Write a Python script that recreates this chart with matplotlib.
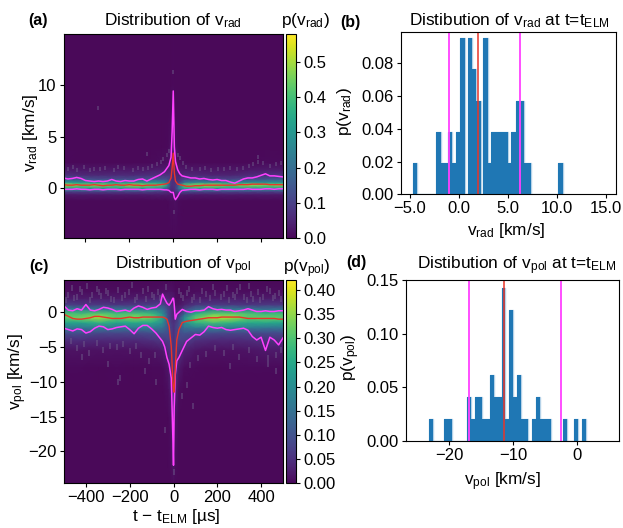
import numpy as np
import matplotlib
matplotlib.use('Agg')
import matplotlib.pyplot as plt
from matplotlib.colors import ListedColormap

plt.rcParams['font.family'] = ['Liberation Sans', 'DejaVu Sans']
plt.rcParams['mathtext.fontset'] = 'custom'
plt.rcParams['mathtext.rm'] = 'Liberation Sans'
plt.rcParams['mathtext.default'] = 'regular'
plt.rcParams['font.size'] = 12.4
plt.rcParams['xtick.labelsize'] = 12
plt.rcParams['ytick.labelsize'] = 12

W, H = 623, 528
MAGENTA = '#ff40ff'
RED = '#e8352a'
SPECK = '#6f5f8c'

# viridis, washed out a little like the reference
colours = plt.get_cmap('viridis')(np.linspace(0, 1, 256))
colours[:, :3] = colours[:, :3] * 0.97 + 0.03
CMAP = ListedColormap(colours)

# panel (a): heatmap nodes, read by eye
rad_t = [-500, -420, -340, -260, -180, -100, -50, -25, -10, 0, 10, 25, 50, 100, 180, 260, 340, 420, 500]
rad_v = [-4.8, -1.2, -0.6, -0.3, 0.0, 0.3, 0.6, 0.9, 1.3, 1.8, 2.5, 4, 7, 10, 14.9]
rad_p = [
    [0, 0, 0, 0, 0, 0, 0, 0, 0, 0, 0, 0, 0, 0, 0, 0, 0, 0, 0],
    [0, 0, 0, 0, 0, 0, 0, .002, .01, .01, .015, .005, 0, 0, 0, 0, 0, 0, 0],
    [.025, .028, .025, .028, .025, .028, .03, .03, .03, .03, .04, .035, .03, .025, .025, .028, .025, .028, .025],
    [.11, .1, .11, .1, .11, .1, .08, .06, .05, .05, .07, .1, .12, .12, .11, .11, .11, .1, .11],
    [.3, .33, .29, .33, .3, .32, .25, .14, .06, .06, .08, .2, .32, .35, .31, .33, .3, .33, .29],
    [.5, .44, .48, .42, .5, .44, .42, .26, .07, .07, .08, .18, .42, .47, .5, .42, .48, .44, .46],
    [.3, .29, .27, .29, .27, .29, .27, .2, .08, .07, .07, .09, .2, .26, .25, .27, .26, .27, .28],
    [.15, .13, .12, .12, .12, .13, .13, .12, .08, .06, .06, .06, .1, .11, .1, .1, .12, .13, .15],
    [.07, .055, .05, .055, .055, .065, .07, .07, .07, .06, .05, .045, .05, .05, .045, .045, .055, .065, .07],
    [.03, .025, .022, .025, .025, .03, .035, .04, .05, .05, .04, .03, .025, .025, .022, .022, .025, .03, .03],
    [.004, .002, .001, .002, .002, .004, .008, .015, .035, .04, .03, .01, .004, .002, .001, .001, .002, .005, .004],
    [0, 0, 0, 0, 0, 0, 0, .003, .02, .03, .015, .002, 0, 0, 0, 0, 0, 0, 0],
    [0, 0, 0, 0, 0, 0, 0, 0, .006, .02, .004, 0, 0, 0, 0, 0, 0, 0, 0],
    [0, 0, 0, 0, 0, 0, 0, 0, 0, .003, 0, 0, 0, 0, 0, 0, 0, 0, 0],
    [0, 0, 0, 0, 0, 0, 0, 0, 0, 0, 0, 0, 0, 0, 0, 0, 0, 0, 0],
]
rad_speck_t = [-480, -455, -440, -405, -380, -360, -335, -310, -270, -250, -225, -185, -160, -140, -115, -95, -75, -55, -45, -30, -20, 20, 30, 45, 60, 85, 120, 145, 170, 205, 230, 260, 290, 320, 345, 365, 385, 385, 410, 440, 470, 490, -345, -120, 0, 5]
rad_speck_v = [1.9, 2.1, 1.8, 2.1, 1.8, 1.9, 1.9, 2.0, 1.8, 2.1, 2.0, 1.8, 2.0, 1.9, 2.0, 2.2, 2.3, 2.5, 2.8, 3.2, 3.6, 3.2, 2.9, 2.4, 2.1, 1.9, 1.9, 2.0, 1.8, 1.9, 1.9, 2.0, 1.9, 2.0, 2.2, 2.3, 2.5, 3.0, 2.4, 2.2, 2.3, 2.4, 7.8, 3.3, 11.2, -2.3]

# panel (a): percentile lines
rad_line_t = [-500, -480, -460, -440, -420, -400, -380, -360, -340, -320, -300, -280, -260, -240, -220, -200, -180, -160, -140, -120, -100, -80, -60, -40, -30, -20, -10, -5, 0, 5, 10, 20, 30, 40, 60, 80, 100, 120, 140, 160, 180, 200, 220, 240, 260, 280, 300, 320, 340, 360, 380, 400, 420, 440, 460, 480, 500]
rad_hi = [1.0, .9, .95, 1.05, .95, .75, .7, .65, .7, .65, .7, .85, .7, .65, .75, .7, .7, .85, .9, .7, .9, 1.1, 1.3, 1.6, 1.9, 2.2, 3.0, 5.5, 9.4, 4.0, 2.6, 1.8, 1.4, 1.2, 1.1, 1.0, 1.0, .9, .95, .85, .8, .85, .75, .75, .6, .5, .7, .9, 1.0, 1.0, 1.1, 1.25, 1.4, 1.2, 1.2, 1.15, 1.1]
rad_med = [.35, .3, .3, .35, .3, .3, .3, .35, .3, .25, .3, .3, .35, .3, .3, .35, .3, .3, .25, .3, .3, .3, .35, .4, .45, .55, 1.0, 2.0, 3.4, 1.5, .7, .4, .35, .3, .2, .2, .25, .25, .3, .3, .3, .3, .3, .3, .3, .3, .35, .35, .35, .4, .4, .4, .4, .35, .35, .35, .35]
rad_lo = [-.1, -.1, -.1, -.05, -.1, -.1, -.15, -.1, -.1, -.15, -.1, -.1, -.1, -.15, -.1, -.1, -.1, -.1, -.15, -.1, -.1, -.1, -.1, -.15, -.15, -.2, -.4, -.4, -.4, -.9, -1.1, -.8, -.4, -.2, -.15, -.1, -.1, -.15, -.1, -.1, -.1, -.15, -.1, -.1, -.1, -.1, -.1, -.1, -.05, -.1, -.1, -.1, -.05, -.05, -.1, -.05, -.05]
rad_vals = [-1.02, 1.97, 6.22]

# panel (c): heatmap nodes, read by eye
pol_t = [-500, -420, -340, -260, -180, -100, -50, -25, -10, 0, 10, 25, 50, 100, 180, 260, 340, 420, 500]
pol_v = [-24.6, -22, -15, -11, -8, -5.5, -4, -3, -2.2, -1.5, -.8, -.2, .4, 1.1, 2, 3, 4.7]
pol_p = [
    [0, 0, 0, 0, 0, 0, 0, 0, 0, 0, 0, 0, 0, 0, 0, 0, 0, 0, 0],
    [0, 0, 0, 0, 0, 0, 0, 0, .005, .02, .005, 0, 0, 0, 0, 0, 0, 0, 0],
    [0, 0, 0, 0, 0, 0, 0, 0, .012, .04, .012, 0, 0, 0, 0, 0, 0, 0, 0],
    [0, 0, 0, 0, 0, 0, 0, .008, .03, .05, .03, .006, 0, 0, 0, 0, 0, 0, 0],
    [.002, .002, .001, .002, .001, .002, .004, .015, .05, .05, .05, .02, .006, .002, .001, .002, .002, .003, .003],
    [.012, .012, .01, .01, .01, .012, .02, .04, .06, .05, .06, .05, .03, .015, .01, .01, .014, .02, .02],
    [.045, .045, .04, .04, .04, .05, .06, .07, .07, .05, .07, .08, .07, .05, .04, .04, .045, .05, .05],
    [.09, .09, .08, .08, .08, .09, .1, .09, .07, .05, .07, .09, .1, .09, .085, .08, .08, .085, .085],
    [.17, .16, .17, .16, .17, .17, .15, .1, .07, .05, .07, .1, .15, .17, .18, .17, .17, .16, .16],
    [.24, .24, .27, .24, .25, .25, .2, .1, .06, .05, .06, .09, .2, .27, .29, .27, .25, .25, .24],
    [.31, .33, .36, .31, .34, .32, .24, .09, .05, .04, .05, .08, .2, .31, .37, .36, .31, .32, .31],
    [.3, .29, .31, .29, .3, .28, .2, .09, .05, .04, .04, .05, .12, .26, .31, .31, .3, .28, .29],
    [.18, .17, .16, .16, .16, .17, .15, .08, .05, .04, .03, .03, .08, .14, .17, .17, .16, .15, .16],
    [.07, .06, .06, .055, .06, .065, .08, .06, .04, .03, .015, .015, .03, .055, .06, .06, .055, .06, .06],
    [.025, .022, .022, .02, .022, .025, .035, .03, .025, .02, .008, .006, .012, .02, .022, .022, .022, .022, .022],
    [.008, .006, .006, .005, .006, .006, .01, .012, .012, .01, .004, .003, .004, .006, .006, .006, .006, .006, .006],
    [0, 0, 0, 0, 0, 0, 0, 0, 0, 0, 0, 0, 0, 0, 0, 0, 0, 0, 0],
]
pol_speck_t = [-480, -465, -440, -420, -395, -370, -350, -330, -300, -285, -255, -220, -190, -165, -140, -115, -90, -70, -35, 25, 45, 70, 95, 130, 165, 190, 215, 245, 270, 290, 320, 345, 365, 385, 410, 440, 465, 490,
               -490, -455, -425, -380, -340, -310, -270, -235, -205, -175, -125, -100, -60, 35, 60, 85, 120, 150, 180, 230, 255, 280, 305, 335, 355, 395, 425, 455, 480,
               -470, -440, -410, -385, -350, -320, -290, -260, -230, -200, -170, -150, -110, -85, 75, 110, 150, 190, 230, 270, 300, 345, 380, 430, 470, 490, -420, -300, -245, -130, -80, 40, 60, 90, 260, 430, 470, -255, -40, 0]
pol_speck_v = [2.5, 3.5, 2.2, 2.9, 3.8, 2.4, 3.4, 2.3, 2.7, 1.9, 3.2, 2.4, 3.9, 2.2, 3.0, 3.4, 2.2, 2.9, 3.6, 3.0, 2.1, 3.4, 2.2, 3.0, 2.0, 2.8, 2.2, 3.5, 2.4, 3.0, 2.2, 3.7, 1.9, 2.9, 2.2, 3.1, 2.3, 1.9,
               1.8, 2.0, 3.3, 1.7, 2.9, 3.1, 1.8, 2.0, 2.9, 1.7, 1.9, 2.5, 2.0, 2.4, 2.8, 1.8, 1.7, 2.6, 3.6, 2.6, 1.8, 2.2, 3.6, 1.8, 2.6, 1.8, 3.4, 2.0, 2.8,
               -4.2, -5.2, -4.6, -5.8, -4.4, -5.4, -4.8, -5.0, -4.6, -5.6, -4.8, -6.2, -7.0, -6.2, -7.6, -6.6, -6.0, -5.2, -5.8, -5.0, -6.4, -5.4, -6.8, -6.6, -6.2, -5.4, -6.5, -7.5, -9.5, -8.5, -10, -12, -10.5, -13.5, -7.8, -7.5, -8.5, -10, -17, -23]

# panel (c): percentile lines
pol_line_t = [-500, -480, -460, -440, -420, -400, -380, -360, -340, -320, -300, -280, -260, -240, -220, -200, -180, -160, -140, -120, -100, -80, -60, -50, -40, -30, -20, -10, -3, 0, 3, 8, 15, 25, 40, 60, 80, 100, 120, 140, 160, 180, 200, 220, 240, 260, 280, 300, 320, 340, 360, 380, 400, 420, 440, 460, 480, 500]
pol_hi = [.9, .3, .2, .5, .3, 1.1, .3, .2, .4, .7, .6, .4, .1, .2, .3, .1, .6, .9, .7, .4, .6, .7, 1.2, 2.6, 1.9, 1.3, 1.0, 1.5, 2.0, 2.0, 1.2, -1.0, -.3, 0, .4, .1, 0, .2, .2, .3, .8, .5, .35, .4, .3, .3, .1, .2, .3, .5, .3, .1, .1, .2, .1, .1, .2, .2]
pol_med = [-.3, -.6, -.9, -1.0, -1.0, -.9, -.8, -.6, -.6, -.7, -.8, -.9, -.9, -.9, -.8, -.7, -.8, -.8, -.7, -.7, -.7, -.7, -.7, -.7, -.8, -1.0, -2.0, -5.0, -10.0, -11.4, -11.5, -8.0, -4.0, -2.5, -1.5, -1.3, -1.2, -1.1, -1.0, -.9, -.8, -.8, -.8, -.7, -.7, -.7, -.7, -.7, -.8, -.9, -.9, -.9, -.9, -.9, -.9, -.9, -1.0, -1.0]
pol_lo = [-2.3, -2.5, -2.7, -2.4, -2.5, -3.0, -2.8, -2.3, -2.0, -2.1, -2.5, -2.4, -2.2, -2.1, -2.0, -2.5, -3.1, -2.3, -1.9, -1.9, -2.4, -3.0, -3.8, -4.2, -5.0, -6.5, -7.5, -9.5, -18, -22, -14, -9.0, -7.0, -6.5, -5.5, -4.2, -3.7, -3.2, -3.3, -2.8, -2.0, -2.2, -2.3, -2.2, -2.5, -2.6, -2.5, -2.4, -2.3, -2.6, -3.5, -4.0, -3.6, -5.5, -3.6, -4.0, -4.7, -3.7]
pol_vals = [-16.86, -11.39, -2.53]

# panel (b): histogram, bin edges as read
b_edges = [-4.69, -4.29, -2.31, -1.77, -1.09, -.65, -.31, .14, .61, .95, 1.39, 1.77, 2.24, 2.52, 2.96, 3.30, 4.97, 5.31, 5.78, 6.6, 7.38, 10.14, 10.61]
b_counts = [1, 0, 2, 1, 2, 1, 2, 5, 0, 5, 4, 3, 0, 5, 1, 2, 1, 2, 3, 1, 0, 1]
b_unit = 0.0191

# panel (d): histogram
d_start, d_width = -23.14, 0.598
d_counts = [1, 0, 0, 0, 1, 1, 0, 0, 0, 0, 2, 1, 2, 2, 1, 1, 3, 2, 2, 7, 1, 6, 2, 3, 1, 1, 0, 1, 2, 1, 1, 1, 0, 0, 0, 1, 0, 0, 1, 0, 1]
d_unit = 0.0204


def make_axes(x0, x1, y0, y1):
    # pixel box, y from the top of the picture
    return fig.add_axes([x0 / W, 1 - y1 / H, (x1 - x0) / W, (y1 - y0) / H])


def put(x, y, s, **kw):
    fig.text(x / W, 1 - y / H, s, **kw)


def heat(ax, cax, t, v, p, vmax, st, sv, speck_s, lt, hi, med, lo):
    mesh = ax.pcolormesh(t, v, np.array(p), cmap=CMAP, vmin=0, vmax=vmax, shading='gouraud')
    ax.scatter(st, sv, color=SPECK, marker='|', s=speck_s, linewidths=1.2, alpha=0.55)
    ax.plot(lt, hi, color=MAGENTA, lw=1.1)
    ax.plot(lt, lo, color=MAGENTA, lw=1.1)
    ax.plot(lt, med, color=RED, lw=1)
    ax.set_xlim(-500, 500)
    ax.set_xticks([-400, -200, 0, 200, 400])
    fig.colorbar(mesh, cax=cax)
    cax.tick_params(length=3, pad=2)
    ax.tick_params(length=3, pad=2)


def hist(ax, edges, counts, unit, vals):
    heights = np.array(counts) * unit
    ax.stairs(heights, edges, color='#b5d2e8', lw=1.0)
    ax.stairs(heights, edges, fill=True, color='#1f77b4', lw=0)
    ax.axvline(vals[0], color=MAGENTA, lw=1.3)
    ax.axvline(vals[2], color=MAGENTA, lw=1.3)
    ax.axvline(vals[1], color=RED, lw=1.1)
    ax.tick_params(length=3, pad=2)


fig = plt.figure(figsize=(W / 100, H / 100), dpi=100)

ax_a = make_axes(63.5, 283, 34, 238)
cax_a = make_axes(285.5, 296, 34, 238)
heat(ax_a, cax_a, rad_t, rad_v, rad_p, 0.58, rad_speck_t, rad_speck_v, 5, rad_line_t, rad_hi, rad_med, rad_lo)
ax_a.set_ylim(-4.8, 14.9)
ax_a.set_yticks([0, 5, 10])
ax_a.set_xticklabels([])
cax_a.set_yticks([0, .1, .2, .3, .4, .5])

ax_b = make_axes(400.7, 616, 32, 194.3)
hist(ax_b, b_edges, b_counts, b_unit, rad_vals)
ax_b.set_xlim(-5.9, 16)
ax_b.set_ylim(0, 0.0992)
ax_b.set_xticks([-5, 0, 5, 10, 15])
ax_b.set_xticklabels(['\u22125.0', '0.0', '5.0', '10.0', '15.0'])
ax_b.set_yticks([0, .02, .04, .06, .08])
ax_b.set_yticklabels(['0.00', '0.02', '0.04', '0.06', '0.08'])

ax_c = make_axes(64, 283, 279.5, 483.3)
cax_c = make_axes(285.5, 296, 279.5, 483.3)
heat(ax_c, cax_c, pol_t, pol_v, pol_p, 0.4215, pol_speck_t, pol_speck_v, 16, pol_line_t, pol_hi, pol_med, pol_lo)
ax_c.set_ylim(-24.6, 4.7)
ax_c.set_yticks([-20, -15, -10, -5, 0])
cax_c.set_yticks([0, .05, .1, .15, .2, .25, .3, .35, .4])
cax_c.set_yticklabels(['0.00', '0.05', '0.10', '0.15', '0.20', '0.25', '0.30', '0.35', '0.40'])

ax_d = make_axes(406, 618.7, 280, 441)
d_edges = d_start + d_width * np.arange(len(d_counts) + 1)
hist(ax_d, d_edges, d_counts, d_unit, pol_vals)
ax_d.set_xlim(-26.7, 6.5)
ax_d.set_ylim(0, 0.15)
ax_d.set_xticks([-20, -10, 0])
ax_d.set_yticks([0, .05, .1, .15])
ax_d.set_yticklabels(['0.00', '0.05', '0.10', '0.15'])

# titles and labels
put(173, 25, r'Distribution of $v_{rad}$', ha='center', va='baseline')
put(183, 269, r'Distribution of $v_{pol}$', ha='center', va='baseline')
put(509, 25, r'Distibution of $v_{rad}$ at t=$t_{ELM}$', ha='center', va='baseline')
put(517, 269, r'Distibution of $v_{pol}$ at t=$t_{ELM}$', ha='center', va='baseline')
put(305, 25, r'p($v_{rad}$)', ha='center', va='baseline')
put(307, 272, r'p($v_{pol}$)', ha='center', va='baseline')

put(28, 25, '(a)', fontweight='bold', va='baseline', fontsize=11.5)
put(340, 27, '(b)', fontweight='bold', va='baseline', fontsize=11.5)
put(29, 271, '(c)', fontweight='bold', va='baseline', fontsize=11.5)
put(346, 267, '(d)', fontweight='bold', va='baseline', fontsize=11.5)

put(31, 133, r'$v_{rad}$ [km/s]', rotation=90, ha='center', va='center')
put(344, 112, r'p($v_{rad}$)', rotation=90, ha='center', va='center')
put(18, 372, r'$v_{pol}$ [km/s]', rotation=90, ha='center', va='center')
put(351, 357, r'p($v_{pol}$)', rotation=90, ha='center', va='center')

put(506, 235, r'$v_{rad}$ [km/s]', ha='center', va='baseline')
put(502, 485, r'$v_{pol}$ [km/s]', ha='center', va='baseline')
put(176, 521, 't \u2212 $t_{ELM}$ [\u00b5s]', ha='center', va='baseline')

fig.savefig('out.png', dpi=100)
